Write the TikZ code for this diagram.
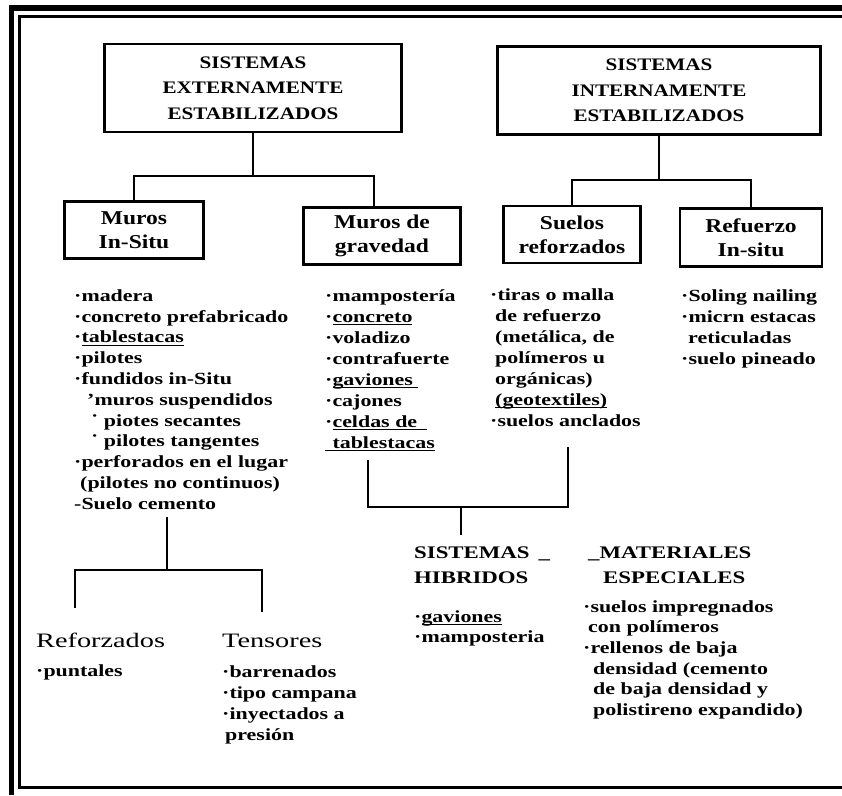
\documentclass[tikz,border=0pt]{standalone}
\usepackage{fontspec}
\setmainfont{Liberation Serif}
\newfontfamily\tfont[FakeStretch=1.38]{Liberation Serif}
\newfontfamily\bfont[FakeStretch=1.2]{Liberation Serif}
\newfontfamily\lfont[FakeStretch=1.29]{Liberation Serif}
\newcommand{\uln}[1]{\setbox0\hbox{#1}\rlap{\rule[-3pt]{\wd0}{1.1pt}}\box0}
\newcommand{\fstrut}{\rule{0pt}{13pt}}
\newcommand{\hstrut}{\rule{0pt}{14pt}}
\tikzset{
  bx/.style={draw, line width=2.8pt, inner sep=0pt, align=center},
  ttl/.style={font=\bfont\bfseries\fontsize{17.6}{25.5}\selectfont},
  sub/.style={font=\bfont\bfseries\fontsize{19.6}{24}\selectfont},
  lst/.style={anchor=north west, inner sep=0pt, align=left, font=\lfont\bfseries\fontsize{17}{#1}\selectfont},
  lst/.default=20.8,
  hd/.style={anchor=base west, inner sep=0pt, font=\tfont\fontsize{20.5}{25}\selectfont},
  bhd/.style={anchor=north west, inner sep=0pt, align=left, font=\lfont\bfseries\fontsize{17.7}{25}\selectfont},
  ln/.style={line width=2.8pt},
}
\begin{document}
\begin{tikzpicture}[x=1pt,y=-1pt]
\useasboundingbox (0,0) rectangle (842,795);
\fill[white] (0,0) rectangle (842,795);
% frame
\draw[line width=5.5pt] (11.5,795) -- (11.5,8) -- (842,8);
\draw[line width=3pt] (842,16.5) -- (19.5,16.5) -- (19.5,787.5) -- (842,787.5);
% top boxes
\node[bx, ttl, minimum width=297pt, minimum height=88pt] (e1) at (253,88) {SISTEMAS\\EXTERNAMENTE\\ESTABILIZADOS};
\node[bx, ttl, minimum width=323pt, minimum height=88pt] (e2) at (659,90.5) {SISTEMAS\\INTERNAMENTE\\ESTABILIZADOS};
% second level boxes
\node[bx, sub, minimum width=139pt, minimum height=57pt] (mis) at (134,230) {Muros\\In-Situ};
\node[bx, sub, minimum width=157pt, minimum height=57pt] (mgr) at (382,236) {Muros de\\gravedad};
\node[bx, sub, minimum width=137pt, minimum height=57pt] (sr) at (572,234.5) {Suelos\\reforzados};
\node[bx, sub, minimum width=142pt, minimum height=58pt] (ri) at (751,237.5) {Refuerzo\\In-situ};
% tree connectors
\coordinate (j1) at (253,176);
\draw[ln] (e1.south) -- (j1);
\draw[ln] (mis.north) |- (j1) -| ([xshift=-8pt]mgr.north);
\coordinate (j2) at (659,180);
\draw[ln] (e2.south) -- (j2);
\draw[ln] (sr.north) |- (j2) -| (ri.north);
% lists
\node[lst] (c1) at (74,288) {\fstrut·madera\\
·concreto prefabricado\\
·\uln{tablestacas}\\
·pilotes\\
·fundidos in-Situ\\
\hspace*{13pt}’muros suspendidos\\
\hspace*{17pt}˙ piotes secantes\\
\hspace*{17pt}˙ pilotes tangentes\\
·perforados en el lugar\\
\hspace*{6pt}(pilotes no continuos)\\
-Suelo cemento};
\node[lst=21] (c2) at (325,288) {\fstrut·mampostería\\
·\uln{concreto}\\
·voladizo\\
·contrafuerte\\
·\uln{gaviones\phantom{,}}\\
·cajones\\
·\uln{celdas de\phantom{e}}\\
\uln{\phantom{·}tablestacas}};
\node[lst=21] (c3) at (490,287) {\fstrut·tiras o malla\\
\hspace*{5pt}de refuerzo\\
\hspace*{5pt}(metálica, de\\
\hspace*{5pt}polímeros u\\
\hspace*{5pt}orgánicas)\\
\hspace*{5pt}\uln{(geotextiles)}\\
·suelos anclados};
\node[lst=21] (c4) at (681,288) {\fstrut·Soling nailing\\
·micrn estacas\\
\hspace*{7pt}reticuladas\\
·suelo pineado};
% lower connectors
\coordinate (t3a) at (167,517);
\coordinate (t3b) at (167,570);
\coordinate (l3) at (75,608);
\coordinate (r3) at (262,612);
\draw[ln] (t3a) -- (t3b);
\draw[ln] (l3) |- (t3b) -| (r3);
\coordinate (a4) at (368,460);
\coordinate (b4) at (568,447);
\coordinate (m4) at (461,507);
\coordinate (d4) at (461,535);
\draw[ln] (a4) |- (m4) -| (b4);
\draw[ln] (m4) -- (d4);
% hybrid & special
\node[bhd] (h1) at (414,544) {\hstrut SISTEMAS\hspace{9pt}\_\\HIBRIDOS};
\node[lst=20] (h2) at (414,609) {\fstrut·\uln{gaviones}\\·mamposteria};
\node[bhd] (m1) at (588,544) {\hstrut\_MATERIALES\\\hspace*{15pt}ESPECIALES};
\node[lst=20.6] (m2) at (583,599) {\fstrut·suelos impregnados\\
\hspace*{5pt}con polímeros\\
·rellenos de baja\\
\hspace*{10pt}densidad (cemento\\
\hspace*{10pt}de baja densidad y\\
\hspace*{10pt}polistireno expandido)};
% bottom
\node[hd] (b1) at (36,647) {Reforzados};
\node[hd] (b2) at (222,647) {Tensores};
\node[lst] (b1l) at (36,663) {\fstrut·puntales};
\node[lst=21] (b2l) at (222,664) {\fstrut·barrenados\\
·tipo campana\\
·inyectados a\\
\hspace*{3pt}presión};
\end{tikzpicture}
\end{document}
